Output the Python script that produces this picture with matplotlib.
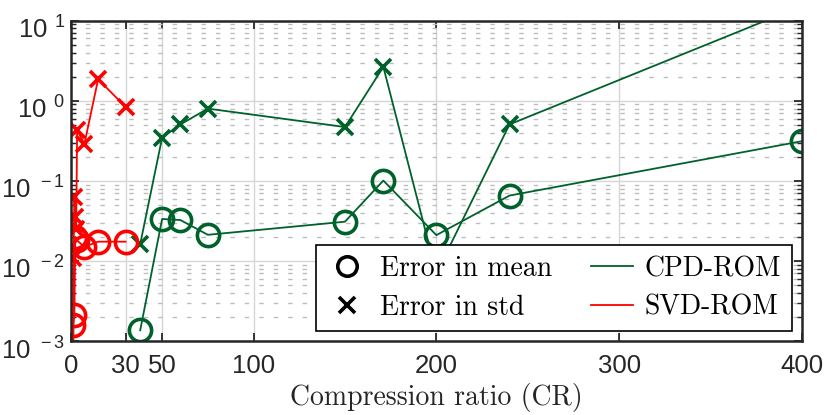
import matplotlib
matplotlib.use("Agg")
import matplotlib.pyplot as plt
from matplotlib.lines import Line2D
from matplotlib.font_manager import FontProperties
from matplotlib.transforms import ScaledTranslation
from matplotlib.ticker import LogLocator, NullFormatter, FixedLocator, FixedFormatter

# ---------------- data ----------------
cpd_cr = [38, 50, 60, 75, 150, 171, 200, 240, 400]
cpd_mean = [0.00136, 0.0334, 0.0324, 0.0212, 0.0309, 0.1008, 0.021, 0.0655, 0.313]
cpd_std = [0.0162, 0.346, 0.507, 0.798, 0.47, 2.65, 0.0070, 0.507, 15.3]

svd_cr = [1.0, 1.5, 2.0, 2.5, 3.0, 3.5, 7.5, 15, 30]
svd_mean = [1e-5, 0.0016, 0.0021, 0.020, 0.019, 0.018, 0.0150, 0.0174, 0.0174]
svd_std = [1e-5, 0.011, 0.0635, 0.035, 0.025, 0.43, 0.29, 1.86, 0.836]

x_ticks = [0, 30, 50, 100, 200, 300, 400]
y_ticks = [1e-3, 1e-2, 1e-1, 1e0, 1e1]
y_exps = ["-3", "-2", "-1", "0", "1"]

legend_labels = ["Error in mean", "Error in std", "CPD-ROM", "SVD-ROM"]
x_label = "Compression ratio (CR)"

# ---------------- style ----------------
GREEN = "#00622B"
RED = "#FF0000"
DARK = "#262626"

plt.rcParams["mathtext.fontset"] = "custom"
plt.rcParams["mathtext.rm"] = "Liberation Sans"
plt.rcParams["mathtext.it"] = "Liberation Sans:italic"
plt.rcParams["font.family"] = ["Liberation Sans", "DejaVu Sans"]

fig = plt.figure(figsize=(8.3, 4.15), dpi=100)
ax = fig.add_axes([0.0852, 0.1783, 0.8811, 0.7718])

ax.set_yscale("log")
ax.set_xlim(0, 400)
ax.set_ylim(1e-3, 1e1)

# grid
ax.grid(True, which="major", color="#d6d6d6", lw=1.0, zorder=0)
ax.yaxis.grid(True, which="minor", color="#bdbdbd", lw=1.0,
              linestyle=(0, (3.2, 7.2)), zorder=0)
ax.set_axisbelow(True)

# data
ax.plot(cpd_cr, cpd_mean, color=GREEN, lw=1.3, marker="o", mfc="none",
        mec=GREEN, ms=16, mew=2.6)
ax.plot(cpd_cr, cpd_std, color=GREEN, lw=1.3, marker="x", mec=GREEN,
        ms=12, mew=2.6)
ax.plot(svd_cr, svd_mean, color=RED, lw=1.3, marker="o", mfc="none",
        mec=RED, ms=16, mew=2.6)
ax.plot(svd_cr, svd_std, color=RED, lw=1.3, marker="x", mec=RED,
        ms=12, mew=2.6)

# ticks
ax.xaxis.set_major_locator(FixedLocator(x_ticks))
ax.set_xticklabels([str(t) for t in x_ticks])
ax.yaxis.set_major_locator(FixedLocator(y_ticks))
ax.yaxis.set_major_formatter(FixedFormatter(
    [r"$\mathregular{10^{\ \,%s}}$" % e for e in y_exps]))
ax.yaxis.set_minor_locator(LogLocator(base=10, subs=[2, 3, 4, 5, 6, 7, 8, 9]))
ax.yaxis.set_minor_formatter(NullFormatter())
ax.tick_params(which="both", direction="in", top=True, right=True,
               colors=DARK, labelcolor=DARK)
ax.tick_params(which="major", length=6, width=1.3, labelsize=18.5)
ax.tick_params(which="minor", length=3.5, width=1.0)
ax.tick_params(axis="x", which="major", pad=9)
ax.tick_params(axis="y", which="major", pad=4)

for s in ax.spines.values():
    s.set_linewidth(1.8)
    s.set_color(DARK)
    s.set_zorder(5)

# shift y tick labels slightly down (exponent-centred like the original)
shift = ScaledTranslation(0, -7 / 100, fig.dpi_scale_trans)
for lab in ax.get_yticklabels():
    lab.set_transform(lab.get_transform() + shift)

ax.set_xlabel(x_label, fontfamily="cmr10", fontsize=20, color=DARK, labelpad=4)

# legend
cm_font = FontProperties(family="cmr10", size=20)
handles = [
    Line2D([], [], ls="none", marker="o", mfc="none", mec="k", ms=14, mew=2.6),
    Line2D([], [], ls="none", marker="x", color="k", mec="k", ms=11, mew=2.6),
    Line2D([], [], color=GREEN, lw=1.3),
    Line2D([], [], color=RED, lw=1.3),
]
leg = ax.legend(handles, legend_labels, ncol=2, loc="lower right",
                bbox_to_anchor=(791.5 / 830, 1 - 331.3 / 415),
                bbox_transform=fig.transFigure, prop=cm_font,
                frameon=True, fancybox=False, edgecolor="k", framealpha=1,
                borderaxespad=0, handlelength=1.5, handletextpad=0.43,
                columnspacing=1.4, labelspacing=0.44, borderpad=0.38)
leg.get_frame().set_linewidth(1.2)
leg.set_zorder(10)

fig.savefig("out.png", dpi=100)
